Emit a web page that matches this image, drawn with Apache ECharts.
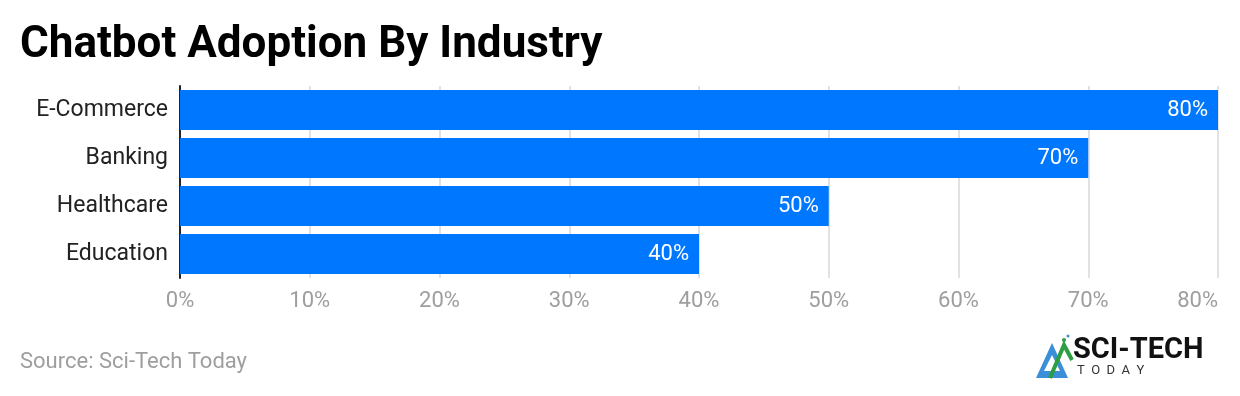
<!DOCTYPE html>
<html>
<head>
<meta charset="utf-8">
<script src="https://cdn.jsdelivr.net/npm/echarts@6/dist/echarts.min.js"></script>
<style>
  html, body { margin: 0; padding: 0; background: #fff; }
  #chart { width: 1240px; height: 396px; }
</style>
</head>
<body>
<div id="chart"></div>
<script>
  // data
  var industries = ['E-Commerce', 'Banking', 'Healthcare', 'Education'];
  var adoption = [80, 70, 50, 40];
  var xTicks = [0, 10, 20, 30, 40, 50, 60, 70, 80];

  var chart = echarts.init(document.getElementById('chart'));
  chart.setOption({
    backgroundColor: '#fff',
    animation: false,
    textStyle: { fontFamily: 'Roboto' },
    title: {
      text: 'Chatbot Adoption By Industry',
      left: 20,
      top: 24,
      padding: 0,
      textStyle: { fontSize: 44, fontWeight: 'bold', color: '#000', fontFamily: 'Roboto' }
    },
    grid: { left: 180, right: 22, top: 86, bottom: 118, containLabel: false },
    xAxis: {
      type: 'value',
      min: xTicks[0],
      max: xTicks[xTicks.length - 1],
      interval: 10,
      axisLine: { show: false },
      axisTick: { show: false },
      splitLine: { show: true, lineStyle: { color: '#e2e2e2', width: 2 } },
      axisLabel: { formatter: '{value}%', color: '#9e9e9e', fontSize: 22, margin: 12, alignMaxLabel: 'right' }
    },
    yAxis: {
      type: 'category',
      data: industries,
      inverse: true,
      axisLine: { show: true, lineStyle: { color: '#222', width: 2 } },
      axisTick: { show: false },
      axisLabel: { color: '#222', fontSize: 23, margin: 12, padding: [3, 0, 0, 0] }
    },
    series: [{
      type: 'bar',
      data: adoption,
      barWidth: 40,
      itemStyle: { color: '#0077ff' },
      label: {
        show: true,
        position: 'insideRight',
        distance: 10,
        formatter: '{c}%',
        color: '#fff',
        fontSize: 22
      }
    }],
    graphic: [
      {
        type: 'text', left: 20, top: 351,
        style: { text: 'Source: Sci-Tech Today', fill: '#9e9e9e', font: '22px Roboto' }
      },
      // logo
      {
        type: 'polygon',
        shape: { points: [[1036, 378], [1052, 343], [1068, 378]] },
        style: { fill: '#3a8fd8' }
      },
      {
        type: 'polygon',
        shape: { points: [[1044, 371], [1052, 355], [1060, 371]] },
        style: { fill: '#fff' }
      },
      {
        type: 'polyline',
        shape: { points: [[1050, 378], [1064, 345], [1072, 360]] },
        style: { stroke: '#2e9e44', lineWidth: 4, fill: null }
      },
      { type: 'circle', shape: { cx: 1064, cy: 340, r: 2 }, style: { fill: '#2e9e44' } },
      { type: 'circle', shape: { cx: 1068, cy: 336, r: 1.5 }, style: { fill: '#3a8fd8' } },
      {
        type: 'text', left: 1073, top: 336,
        style: { text: 'SCI-TECH', fill: '#111', font: 'bold 29px Roboto' }
      },
      {
        type: 'text', left: 1077, top: 364,
        style: { text: 'T  O  D  A  Y', fill: '#333', font: '13px Roboto' }
      }
    ]
  });
</script>
</body>
</html>
